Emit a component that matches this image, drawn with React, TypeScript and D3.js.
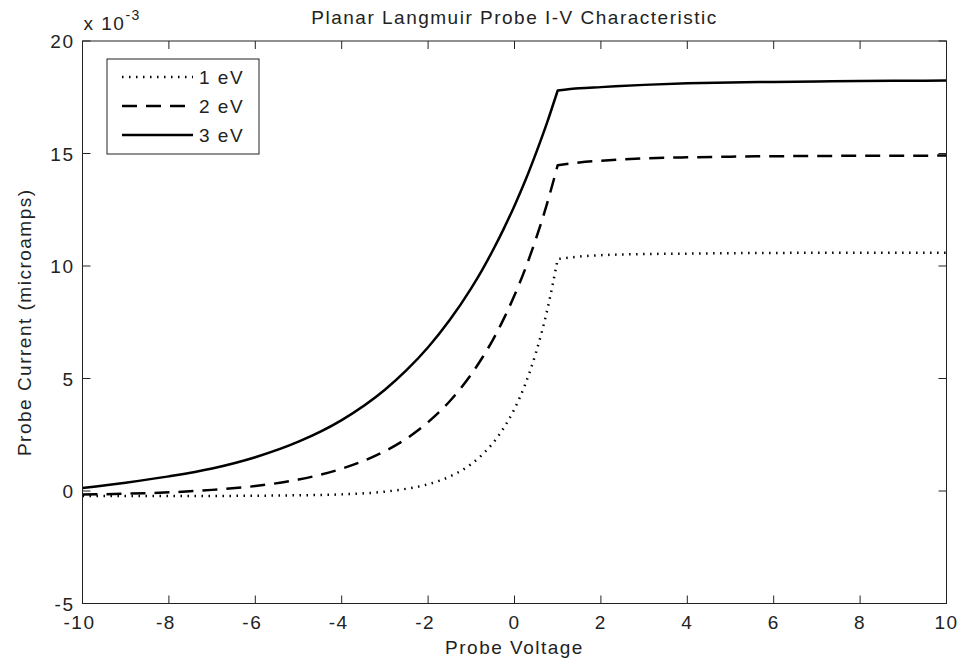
import { useEffect, useRef } from "react";
import * as d3 from "d3";

// probe voltage samples (V)
const voltage = [-10, -9, -8, -7, -6, -5, -4, -3, -2.5, -2, -1.5, -1, -0.75, -0.5, -0.25, 0, 0.25, 0.5, 0.75, 1, 1.5, 2, 3, 4, 5, 6, 7, 8, 9, 10];
const plasmaPotential = 1; // knee of the curves

// probe current, in units of 1e-3
const current1eV = [-0.22, -0.22, -0.22, -0.22, -0.21, -0.19, -0.15, -0.03, 0.1, 0.3, 0.64, 1.2, 1.61, 2.13, 2.8, 3.65, 4.75, 6.17, 7.98, 10.31, 10.42, 10.48, 10.53, 10.55, 10.57, 10.58, 10.59, 10.59, 10.59, 10.59];
const current2eV = [-0.16, -0.12, -0.06, 0.05, 0.22, 0.51, 0.99, 1.77, 2.33, 3.06, 3.99, 5.19, 5.91, 6.72, 7.65, 8.7, 9.88, 11.23, 12.75, 14.48, 14.6, 14.68, 14.78, 14.83, 14.86, 14.88, 14.89, 14.9, 14.9, 14.91];
const current3eV = [0.13, 0.37, 0.65, 1.0, 1.5, 2.19, 3.15, 4.5, 5.37, 6.39, 7.6, 9.02, 9.82, 10.7, 11.65, 12.68, 13.8, 15.03, 16.35, 17.8, 17.9, 17.95, 18.05, 18.12, 18.16, 18.18, 18.2, 18.22, 18.23, 18.24];

const seriesLabels = ["1 eV", "2 eV", "3 eV"];
const xTicks = [-10, -8, -6, -4, -2, 0, 2, 4, 6, 8, 10];
const yTicks = [-5, 0, 5, 10, 15, 20];

const W = 961;
const H = 659;
const FONT = "'Liberation Sans', Arial, sans-serif";

export default function App() {
  const svgRef = useRef<SVGSVGElement>(null);

  useEffect(() => {
    if (!svgRef.current) return;
    const svg = d3.select(svgRef.current);
    svg.selectAll("*").remove();

    const margin = { top: 41, right: 14.5, bottom: 55.5, left: 82.5 };
    const x = d3.scaleLinear().domain([-10, 10]).range([margin.left, W - margin.right]);
    const y = d3.scaleLinear().domain([-5, 20]).range([H - margin.bottom, margin.top]);
    const [x0, x1] = x.range();
    const [y0, y1] = y.range();

    svg.append("rect").attr("width", W).attr("height", H).attr("fill", "white");

    const series = [
      { label: seriesLabels[0], values: current1eV, dash: "1.5 5.5" },
      { label: seriesLabels[1], values: current2eV, dash: "15 9" },
      { label: seriesLabels[2], values: current3eV, dash: null },
    ];

    const line = d3.line<[number, number]>()
      .x(d => x(d[0]))
      .y(d => y(d[1]))
      .curve(d3.curveMonotoneX);

    // smooth each side of the knee separately so the corner stays sharp,
    // then join both halves into one path so dashes run continuously
    const kneeIdx = voltage.indexOf(plasmaPotential);
    const pathFor = (values: number[]) => {
      const pts = voltage.map((v, i) => [v, values[i]] as [number, number]);
      const left = line(pts.slice(0, kneeIdx + 1)) || "";
      const right = (line(pts.slice(kneeIdx)) || "").replace(/^M/, "L");
      return left + right;
    };

    series.forEach(s => {
      const p = svg.append("path")
        .attr("fill", "none")
        .attr("stroke", "#000")
        .attr("stroke-width", 2.5)
        .attr("stroke-linejoin", "round")
        .attr("d", pathFor(s.values));
      if (s.dash) p.attr("stroke-dasharray", s.dash);
    });

    // axes box with inward ticks on all sides
    const axisColor = "#222";
    const tickLen = 8;
    svg.append("rect")
      .attr("x", x0).attr("y", y1)
      .attr("width", x1 - x0).attr("height", y0 - y1)
      .attr("fill", "none").attr("stroke", axisColor).attr("stroke-width", 1);

    const ticks = svg.append("g").attr("stroke", axisColor).attr("stroke-width", 1);
    xTicks.forEach(t => {
      ticks.append("line").attr("x1", x(t)).attr("x2", x(t)).attr("y1", y0).attr("y2", y0 - tickLen);
      ticks.append("line").attr("x1", x(t)).attr("x2", x(t)).attr("y1", y1).attr("y2", y1 + tickLen);
    });
    yTicks.forEach(t => {
      ticks.append("line").attr("x1", x0).attr("x2", x0 + tickLen).attr("y1", y(t)).attr("y2", y(t));
      ticks.append("line").attr("x1", x1).attr("x2", x1 - tickLen).attr("y1", y(t)).attr("y2", y(t));
    });

    const text = (g: d3.Selection<any, unknown, null, undefined>) =>
      g.attr("font-family", FONT).attr("font-size", 19).attr("fill", "#222").attr("letter-spacing", 1.5);

    svg.append("g").call(text)
      .selectAll("text")
      .data(xTicks)
      .enter()
      .append("text")
      .attr("x", d => x(d) + (d < 0 ? -3 : 0))
      .attr("y", y0 + 25)
      .attr("text-anchor", "middle")
      .text(d => String(d));

    svg.append("g").call(text)
      .selectAll("text")
      .data(yTicks)
      .enter()
      .append("text")
      .attr("x", x0 - 8)
      .attr("y", d => y(d) + 7)
      .attr("text-anchor", "end")
      .text(d => String(d));

    // exponent label
    const expo = svg.append("text").call(text).attr("x", x0 + 1).attr("y", y1 - 11);
    expo.append("tspan").text("x 10");
    expo.append("tspan").attr("font-size", 14).attr("dy", -10).text("-3");

    // titles
    svg.append("text").call(text)
      .attr("x", (x0 + x1) / 2).attr("y", 24)
      .attr("text-anchor", "middle")
      .text("Planar Langmuir Probe I-V Characteristic");

    svg.append("text").call(text)
      .attr("x", (x0 + x1) / 2).attr("y", 654)
      .attr("text-anchor", "middle")
      .text("Probe Voltage");

    svg.append("text").call(text)
      .attr("transform", `translate(31,${(y0 + y1) / 2}) rotate(-90)`)
      .attr("text-anchor", "middle")
      .text("Probe Current (microamps)");

    // legend
    const legend = svg.append("g").attr("transform", "translate(107,59)");
    legend.append("rect")
      .attr("width", 152).attr("height", 95)
      .attr("fill", "white").attr("stroke", axisColor).attr("stroke-width", 1);
    series.forEach((s, i) => {
      const ly = 18 + i * 29;
      const l = legend.append("line")
        .attr("x1", 15).attr("x2", 86).attr("y1", ly).attr("y2", ly)
        .attr("stroke", "#000").attr("stroke-width", 2.5);
      if (s.dash) l.attr("stroke-dasharray", s.dash);
      legend.append("text").call(text)
        .attr("x", 92).attr("y", ly + 7)
        .text(s.label);
    });
  }, []);

  return (
    <svg
      ref={svgRef}
      width={W}
      height={H}
      style={{ position: "absolute", left: 0, top: 0 }}
    />
  );
}
